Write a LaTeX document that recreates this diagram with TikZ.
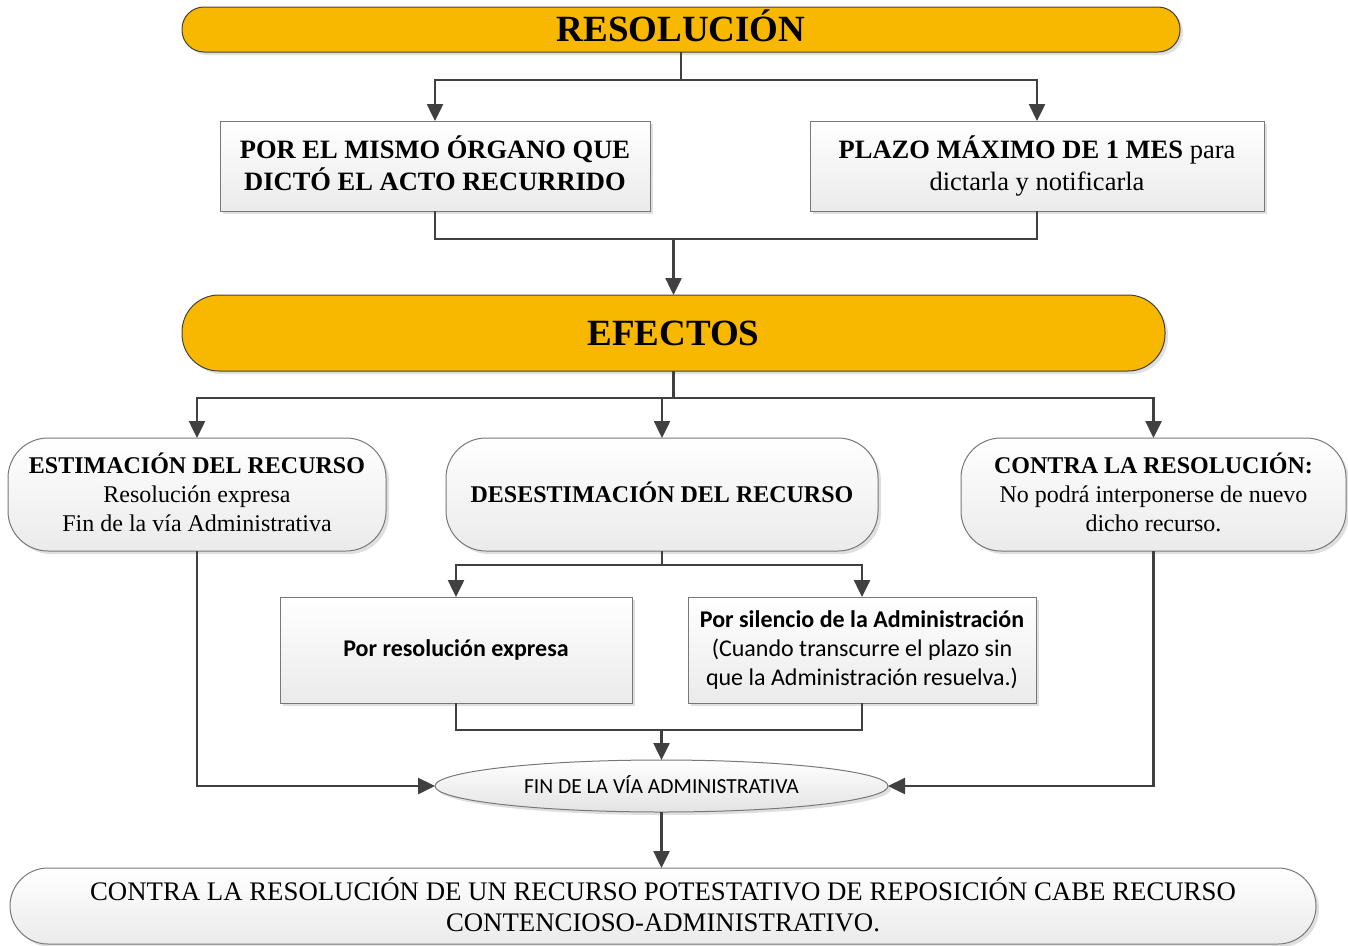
\documentclass[tikz,border=0pt]{standalone}
\usepackage{fontspec}
\setmainfont{Liberation Serif}
\newfontfamily\calibri{Carlito}
\usepackage{tikz}
\usetikzlibrary{arrows.meta,shapes.geometric,shadows,positioning}

\definecolor{bannergold}{RGB}{248,184,0}
\definecolor{linegray}{RGB}{64,64,64}
\definecolor{edgegray}{RGB}{120,120,120}

% profundidad extra para centrar el texto
\newcommand{\lowstrut}[1]{\rule[-#1]{0pt}{#1}}

\begin{document}
\begin{tikzpicture}[x=1pt,y=-1pt]
			\tikzstyle{Base}	= [draw=edgegray, line width=1pt, inner sep=0pt, outer sep=0pt, align=center,
						   drop shadow={shadow xshift=3pt, shadow yshift=-3pt, opacity=0.25, fill=gray}]
			\tikzstyle{Banner}	= [Base, draw=linegray, fill=bannergold, text height=24.5pt, text depth=0pt,
						   font=\bfseries\fontsize{37}{44}\selectfont]
			\tikzstyle{Box}		= [Base, rectangle, top color=white, bottom color=gray!16]
			\tikzstyle{RBox}	= [Box, rounded corners=40pt, font=\fontsize{24}{29}\selectfont]
			\tikzstyle{Oval}	= [Base, ellipse, top color=white, bottom color=gray!22, font=\calibri\fontsize{21.5}{24}\selectfont]
			\tikzstyle{Conn}	= [line width=2.5pt, draw=linegray]
			\tikzstyle{Arr}		= [-{Triangle[width=16pt,length=17pt]}]
			
			\useasboundingbox (0,0) rectangle (1348,945);
			
			% cabecera
			\node (resol) at (681,29.5) [Banner, rounded corners=22pt, minimum width=998pt, minimum height=45pt] {RESOLUCIÓN};
			\node (organo) at (435,166) [Box, minimum width=430pt, minimum height=90pt, font=\bfseries\fontsize{26.5}{32}\selectfont]
				{POR EL MISMO ÓRGANO QUE\\DICTÓ EL ACTO RECURRIDO\lowstrut{6pt}};
			\node (plazo) at (1037,166) [Box, minimum width=454pt, minimum height=90pt, font=\fontsize{26.5}{32}\selectfont]
				{\textbf{PLAZO MÁXIMO DE 1 MES} para\\dictarla y notificarla};
			\node (efectos) at (673.5,333) [Banner, rounded corners=37pt, minimum width=983pt, minimum height=76pt] {EFECTOS};
			
			% efectos
			\node (estim) at (197,494.5) [RBox, minimum width=378pt, minimum height=113pt]
				{\textbf{ESTIMACIÓN DEL RECURSO}\\Resolución expresa\\Fin de la vía Administrativa\lowstrut{4pt}};
			\node (desest) at (662,494.5) [RBox, minimum width=432pt, minimum height=113pt]
				{\textbf{DESESTIMACIÓN DEL RECURSO}\lowstrut{4pt}};
			\node (contra) at (1153.5,494.5) [RBox, minimum width=385pt, minimum height=113pt]
				{\textbf{CONTRA LA RESOLUCIÓN:}\\No podrá interponerse de nuevo\\dicho recurso.\lowstrut{4pt}};
			\node (expresa) at (456,650) [Box, minimum width=352pt, minimum height=106pt, font=\calibri\bfseries\fontsize{24}{29}\selectfont]
				{Por resolución expresa};
			\node (silencio) at (862,650) [Box, minimum width=348pt, minimum height=106pt, font=\calibri\fontsize{24}{29}\selectfont]
				{\textbf{Por silencio de la Administración}\\(Cuando transcurre el plazo sin\\que la Administración resuelva.)};
			\node (fin) at (661.5,786) [Oval, minimum width=453pt, minimum height=52pt] {FIN DE LA VÍA ADMINISTRATIVA\lowstrut{3pt}};
			\node (final) at (663,906) [Box, rounded corners=38pt, minimum width=1306pt, minimum height=76pt, font=\fontsize{26.8}{31}\selectfont]
				{CONTRA LA RESOLUCIÓN DE UN RECURSO POTESTATIVO DE REPOSICIÓN CABE RECURSO\\CONTENCIOSO-ADMINISTRATIVO.\lowstrut{4pt}};
			
			% puntos de union
			\coordinate (j0) at (681,80);
			\coordinate (j1) at (673.5,239);
			\coordinate (j2) at (673.5,398);
			\coordinate (j3) at (662,565);
			\coordinate (j4) at (661.5,730);
			
			\draw [Conn] (resol.south) -- (j0);
			\foreach \n in {organo, plazo}
				\draw [Conn, Arr] (j0) -| (\n.north);
			\foreach \n in {organo, plazo}
				\draw [Conn] (\n.south) |- (j1);
			\draw [Conn, Arr] (j1) -- (efectos.north);
			\draw [Conn] (efectos.south) -- (j2);
			\foreach \n in {estim, desest, contra}
				\draw [Conn, Arr] (j2) -| (\n.north);
			\draw [Conn] (desest.south) -- (j3);
			\foreach \n in {expresa, silencio}
				\draw [Conn, Arr] (j3) -| (\n.north);
			\foreach \n in {expresa, silencio}
				\draw [Conn] (\n.south) |- (j4);
			\draw [Conn, Arr] (j4) -- (fin.north);
			\draw [Conn, Arr] (estim.south) |- (fin.west);
			\draw [Conn, Arr] (contra.south) |- (fin.east);
			\draw [Conn, Arr] (fin.south) -- (fin.south |- final.north);
		\end{tikzpicture}
\end{document}
